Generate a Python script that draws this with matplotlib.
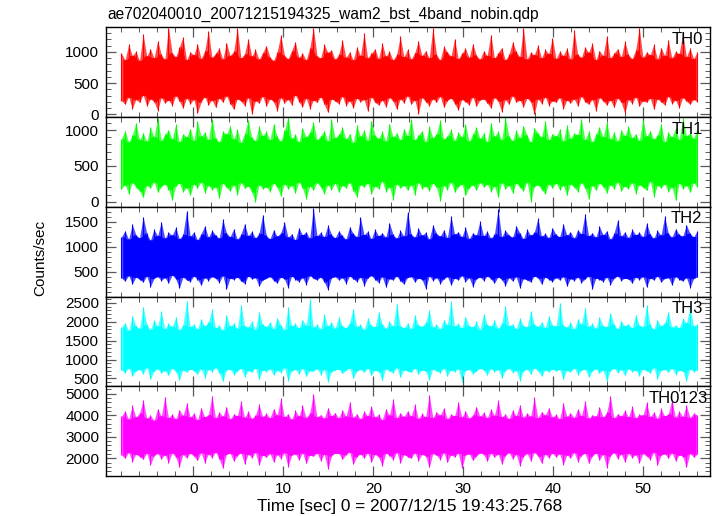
#!/usr/bin/env python3
"""
WAM light curve (4 bands + sum) - qdp style stacked panels
"""

import numpy as np
import matplotlib
matplotlib.use("Agg")
import matplotlib.pyplot as plt
from matplotlib.ticker import MultipleLocator

plt.rcParams["font.family"] = ["Liberation Sans", "DejaVu Sans"]
plt.rcParams["font.size"] = 11

T_START, T_END = -8.0, 56.0

# envelope of each time bin (max / min counts/sec)
th0_hi = [
    980, 870, 1120, 940, 1010, 860, 1290, 930, 1050, 900, 1180, 960, 880, 1390, 990, 920, 1080, 1240, 870, 1000,
    950, 1130, 890, 1020, 1340, 910, 980, 1060, 880, 1150, 940, 1010, 1390, 900, 970, 1210, 930, 1040, 880, 990,
    1100, 920, 860, 1000, 1270, 950, 890, 1020, 1160, 910, 980, 870, 1060, 1390, 940, 900, 1120, 990, 1030, 880,
    960, 1190, 910, 1000, 870, 1080, 940, 1300, 900, 980, 1050, 890, 1140, 930, 1010, 870, 960, 1250, 920, 1040,
    880, 990, 1170, 940, 1020, 900, 1390, 960, 870, 1090, 1000, 930, 1210, 890, 980, 1060, 910, 1130, 950, 880,
    1020, 940, 1280, 900, 990, 1070, 870, 960, 1160, 1010, 920, 1390, 880, 1000, 950, 1110, 900, 1040, 970, 1230,
    890, 1010, 940, 1060, 880, 1350, 960, 910, 1080, 990, 1140, 870, 1020, 940, 1260, 900, 980, 1050, 920, 1170,
    960, 890, 1030, 1390, 910, 1000, 950, 1120, 880, 1070, 940, 1190, 900, 1010, 970, 1300, 920, 1060, 890, 1000,
]
th0_lo = [
    220, 160, 280, 90, 240, 190, 310, 130, 250, 200, 60, 270, 180, 230, 140, 300, 210, 100, 260, 170,
    240, 20, 200, 280, 150, 230, 110, 260, 190, 300, 170, 80, 250, 210, 140, 270, 0, 220, 180, 290,
    130, 250, 200, 60, 270, 180, 240, 150, 310, 200, 120, 260, 90, 230, 190, 280, 160, 30, 250, 210,
    170, 290, 140, 220, 100, 260, 200, 240, 50, 280, 190, 150, 230, 120, 270, 210, 80, 250, 180, 300,
    160, 230, 10, 270, 200, 140, 250, 190, 290, 110, 220, 260, 170, 70, 240, 200, 150, 280, 130, 230,
    250, 180, 100, 270, 210, 40, 240, 160, 300, 190, 230, 120, 260, 200, 0, 250, 170, 280, 140, 220,
    190, 270, 90, 230, 180, 250, 130, 290, 200, 160, 240, 60, 270, 210, 150, 230, 110, 260, 190, 20,
    240, 170, 280, 130, 220, 190, 260, 80, 250, 200, 150, 290, 170, 230, 100, 270, 210, 160, 240, 200,
]
th1_hi = [
    880, 990, 830, 930, 1100, 860, 960, 840, 1040, 900, 1170, 850, 940, 1000, 870, 1080, 830, 950, 900, 1020,
    850, 1120, 910, 970, 860, 1160, 890, 830, 980, 940, 1060, 870, 1010, 820, 950, 1140, 900, 850, 1050, 920,
    980, 860, 1090, 910, 840, 1000, 1180, 880, 940, 830, 1030, 900, 970, 1110, 860, 920, 990, 840, 1150, 890,
    940, 1040, 870, 950, 820, 1070, 910, 1000, 850, 1130, 930, 880, 980, 840, 1090, 900, 960, 860, 1020, 920,
    1160, 860, 930, 990, 830, 1050, 890, 950, 1140, 870, 920, 1010, 850, 970, 900, 1080, 840, 940, 1040, 880,
    960, 830, 1100, 910, 980, 860, 1180, 920, 850, 1000, 890, 1060, 930, 830, 1030, 960, 900, 1130, 860, 950,
    910, 1010, 840, 1070, 880, 960, 930, 1150, 860, 980, 830, 940, 1040, 900, 1110, 870, 970, 840, 1000, 920,
    1050, 890, 950, 850, 1140, 910, 990, 870, 930, 1090, 830, 970, 900, 1030, 860, 1170, 920, 960, 880, 1020,
]
th1_lo = [
    180, 240, 110, 270, 200, 150, 60, 230, 190, 280, 130, 210, 250, 170, 20, 220, 260, 140, 200, 90,
    250, 190, 280, 120, 230, 170, 210, 50, 260, 200, 150, 240, 100, 270, 190, 220, 130, 0, 240, 180,
    210, 140, 260, 200, 80, 250, 180, 230, 120, 280, 190, 40, 220, 160, 270, 200, 110, 240, 170, 260,
    130, 230, 190, 270, 150, 70, 240, 200, 260, 110, 220, 180, 290, 140, 210, 30, 250, 190, 230, 160,
    240, 100, 270, 180, 220, 150, 260, 200, 10, 230, 170, 280, 130, 210, 250, 90, 190, 240, 160, 270,
    200, 250, 140, 220, 60, 270, 180, 230, 120, 260, 200, 150, 280, 0, 210, 240, 170, 110, 250, 190,
    260, 170, 230, 90, 250, 200, 140, 270, 190, 40, 230, 160, 260, 210, 120, 240, 180, 280, 150, 220,
    180, 270, 110, 240, 200, 160, 290, 70, 230, 190, 250, 140, 210, 20, 260, 180, 230, 130, 270, 200,
]
th2_hi = [
    1200, 1320, 1150, 1450, 1240, 1180, 1600, 1270, 1130, 1350, 1220, 1500, 1170, 1290, 1230, 1390, 1160, 1250, 1720, 1210,
    1300, 1140, 1260, 1420, 1190, 1330, 1240, 1170, 1550, 1280, 1200, 1360, 1150, 1250, 1460, 1220, 1310, 1180, 1270, 1640,
    1230, 1160, 1340, 1210, 1280, 1500, 1190, 1260, 1140, 1380, 1240, 1300, 1170, 1780, 1220, 1290, 1200, 1430, 1250, 1180,
    1320, 1230, 1150, 1400, 1270, 1200, 1590, 1240, 1310, 1160, 1350, 1220, 1280, 1190, 1480, 1250, 1170, 1330, 1210, 1700,
    1260, 1190, 1370, 1230, 1290, 1150, 1440, 1270, 1210, 1340, 1180, 1620, 1250, 1300, 1200, 1390, 1160, 1280, 1230, 1510,
    1220, 1310, 1170, 1260, 1750, 1200, 1330, 1240, 1190, 1420, 1280, 1160, 1350, 1230, 1290, 1570, 1210, 1270, 1180, 1380,
    1250, 1200, 1460, 1230, 1300, 1170, 1340, 1260, 1660, 1220, 1280, 1190, 1410, 1240, 1320, 1150, 1270, 1530, 1210, 1300,
    1180, 1350, 1240, 1290, 1200, 1470, 1260, 1170, 1330, 1230, 1610, 1280, 1190, 1360, 1250, 1210, 1440, 1270, 1200, 1320,
]
th2_lo = [
    380, 320, 430, 260, 400, 350, 300, 420, 210, 370, 410, 330, 390, 280, 440, 360, 180, 400, 340, 310,
    420, 350, 240, 390, 330, 410, 370, 290, 430, 160, 380, 350, 400, 320, 270, 420, 360, 390, 220, 340,
    370, 410, 330, 280, 400, 360, 190, 420, 350, 310, 390, 250, 430, 370, 340, 400, 300, 150, 380, 410,
    340, 390, 270, 420, 360, 310, 400, 230, 380, 430, 350, 290, 410, 200, 370, 340, 420, 320, 260, 390,
    410, 300, 380, 350, 170, 420, 330, 390, 270, 360, 410, 240, 380, 340, 430, 310, 390, 210, 360, 400,
    330, 420, 360, 280, 400, 350, 230, 390, 320, 410, 180, 370, 340, 300, 420, 380, 260, 400, 350, 310,
    390, 340, 410, 220, 370, 330, 400, 290, 360, 420, 160, 380, 350, 310, 400, 250, 370, 420, 330, 380,
    360, 280, 400, 350, 410, 200, 380, 340, 420, 300, 370, 390, 240, 410, 350, 320, 390, 190, 370, 400,
]
th3_hi = [
    1850, 1980, 1760, 2150, 1900, 1820, 2400, 1930, 1790, 2050, 1880, 2280, 1810, 1960, 1870, 2120, 1780, 1920, 2550, 1860,
    1950, 1800, 2080, 1890, 1990, 2330, 1840, 1910, 1770, 2180, 1880, 1970, 1820, 2450, 1900, 1850, 2020, 1790, 2260, 1930,
    1870, 2000, 1810, 2110, 1920, 1780, 2380, 1890, 1960, 1830, 2060, 1900, 2600, 1850, 1940, 1800, 2200, 1880, 1990, 1820,
    2130, 1900, 1840, 1980, 2350, 1870, 1930, 1790, 2090, 1910, 1860, 2250, 1950, 1820, 2010, 1880, 2480, 1900, 1840, 1970,
    1810, 2170, 1920, 1870, 1990, 2300, 1850, 1940, 1800, 2060, 1910, 2560, 1880, 1960, 1830, 2140, 1900, 1860, 2010, 1790,
    2220, 1930, 1880, 2040, 1820, 1970, 2420, 1890, 1950, 1810, 2100, 1900, 1860, 2290, 1940, 1870, 2000, 1830, 2160, 1910,
    1880, 2510, 1920, 1850, 1990, 1800, 2070, 1930, 2360, 1870, 1960, 1820, 2120, 1900, 1860, 2240, 1940, 1810, 2030, 1890,
    1950, 1840, 2190, 1910, 1870, 2440, 1930, 1800, 2050, 1890, 1980, 2270, 1850, 1920, 1830, 2090, 1960, 2380, 1880, 1940,
]
th3_lo = [
    720, 650, 780, 560, 700, 740, 620, 790, 480, 690, 760, 640, 710, 580, 770, 680, 450, 730, 660, 750,
    700, 610, 760, 520, 740, 680, 790, 640, 420, 720, 750, 600, 690, 770, 540, 710, 660, 780, 470, 730,
    680, 760, 590, 720, 650, 790, 430, 700, 740, 620, 770, 550, 710, 690, 760, 600, 740, 400, 680, 720,
    750, 630, 710, 780, 500, 690, 740, 660, 770, 580, 720, 680, 450, 760, 700, 640, 790, 530, 730, 690,
    660, 770, 610, 730, 690, 460, 750, 700, 640, 780, 570, 720, 680, 760, 410, 710, 740, 620, 690, 770,
    720, 590, 760, 680, 740, 510, 700, 770, 650, 720, 440, 690, 750, 610, 780, 700, 560, 730, 670, 750,
    690, 740, 480, 720, 660, 780, 600, 710, 750, 530, 690, 760, 640, 720, 420, 700, 770, 650, 740, 580,
    760, 680, 720, 570, 750, 700, 640, 790, 490, 710, 740, 660, 770, 600, 720, 690, 430, 750, 680, 720,
]
th0123_hi = [
    3950, 4200, 3800, 4450, 3900, 4100, 4700, 3850, 4000, 3750, 4300, 3950, 4850, 3880, 4050, 3820, 4250, 3980, 4550, 3900,
    4100, 3780, 4350, 3920, 4020, 4900, 3860, 4150, 3940, 4400, 3810, 4060, 3970, 4650, 3890, 4180, 3840, 4000, 4500, 3930,
    4080, 3870, 4300, 3990, 4780, 3920, 4060, 3800, 4220, 3950, 4450, 3880, 4100, 5000, 3910, 4030, 3850, 4350, 3970, 4120,
    3860, 4250, 3940, 4600, 3890, 4070, 3820, 4180, 3960, 4420, 3900, 4040, 3780, 4300, 3990, 4750, 3870, 4110, 3930, 4200,
    3950, 4500, 3840, 4080, 3910, 4950, 3880, 4160, 3990, 4340, 3820, 4050, 3960, 4620, 3900, 4210, 3850, 4010, 4400, 3940,
    4130, 3870, 4280, 3980, 4700, 3910, 4060, 3830, 4240, 3960, 4480, 3890, 4100, 3940, 4820, 3870, 4170, 3990, 4350, 3900,
    4050, 3820, 4560, 3930, 4110, 3880, 4290, 3970, 4660, 3850, 4020, 3940, 4380, 3900, 4140, 4880, 3860, 4070, 3950, 4230,
    3910, 4420, 3870, 4040, 3990, 4590, 3920, 4150, 3840, 4310, 3960, 4060, 4720, 3890, 4190, 3930, 4450, 3880, 4100, 4000,
]
th0123_lo = [
    2150, 2000, 2280, 1850, 2200, 2080, 1950, 2250, 1700, 2120, 2230, 1980, 2170, 1800, 2260, 2050, 1620, 2190, 2010, 2240,
    2100, 1900, 2270, 1780, 2210, 2030, 2290, 1960, 1550, 2180, 2240, 1870, 2130, 2260, 1740, 2200, 2020, 2280, 1680, 2150,
    2050, 2230, 1830, 2180, 1990, 2270, 1600, 2140, 2220, 1920, 2260, 1760, 2160, 2090, 2250, 1880, 2200, 1500, 2110, 2240,
    2230, 1950, 2170, 2290, 1720, 2080, 2210, 2000, 2260, 1820, 2190, 2060, 1650, 2240, 2130, 1930, 2280, 1790, 2180, 2070,
    2000, 2260, 1890, 2200, 2090, 1580, 2230, 2140, 1940, 2270, 1810, 2170, 2060, 2250, 1530, 2150, 2220, 1900, 2100, 2260,
    2180, 1860, 2240, 2050, 2210, 1730, 2120, 2270, 1970, 2190, 1640, 2080, 2230, 1880, 2280, 2100, 1770, 2200, 2020, 2240,
    2060, 2220, 1700, 2170, 2010, 2280, 1850, 2130, 2240, 1760, 2090, 2250, 1930, 2190, 1560, 2110, 2270, 1980, 2210, 1820,
    2240, 2030, 2180, 1790, 2230, 2100, 1940, 2290, 1690, 2140, 2220, 2000, 2260, 1870, 2170, 2080, 1590, 2230, 2050, 2190,
]

band_names = ["TH0", "TH1", "TH2", "TH3", "TH0123"]
band_hi = [th0_hi, th1_hi, th2_hi, th3_hi, th0123_hi]
band_lo = [th0_lo, th1_lo, th2_lo, th3_lo, th0123_lo]
band_colors = ["#ff0000", "#00ff00", "#0000ff", "#00ffff", "#ff00ff"]
band_ylim = [(-45, 1395), (-70, 1180), (10, 1800), (290, 2670), (1180, 5340)]
band_major = [500, 500, 500, 500, 1000]
band_minor = [100, 100, 100, 100, 200]
label_right = [0.988, 0.988, 0.988, 0.988, 0.997]


def main():
    fig = plt.figure(figsize=(7.17, 5.16), dpi=100)
    gs = fig.add_gridspec(5, 1, left=0.148, right=0.990, top=0.947, bottom=0.0775, hspace=0)

    for i, name in enumerate(band_names):
        ax = fig.add_subplot(gs[i])
        hi = np.array(band_hi[i], dtype=float)
        lo = np.array(band_lo[i], dtype=float)
        x = np.linspace(T_START, T_END, hi.size)
        col = band_colors[i]

        # light outer fringe: envelope of all bins
        ax.fill_between(x, lo, hi, color=col, alpha=0.7, linewidth=0)
        # solid core: what neighbouring bins share
        xm = 0.5 * (x[:-1] + x[1:])
        core_hi = np.minimum(hi[:-1], hi[1:])
        core_lo = np.maximum(lo[:-1], lo[1:])
        ax.fill_between(xm, core_lo, core_hi, color=col, linewidth=0.5, edgecolor=col)
        # full sweep of each bin as a thin spike
        ax.vlines(x, lo, hi, color=col, linewidth=0.8)

        ax.set_xlim(-9.7, 57.4)
        ax.set_ylim(*band_ylim[i])
        ax.xaxis.set_major_locator(MultipleLocator(10))
        ax.xaxis.set_minor_locator(MultipleLocator(2))
        ax.yaxis.set_major_locator(MultipleLocator(band_major[i]))
        ax.yaxis.set_minor_locator(MultipleLocator(band_minor[i]))
        ax.tick_params(which="both", direction="in", top=True, right=True, color="0.35")
        ax.tick_params(which="major", length=7, width=0.9, labelsize=11, pad=5)
        ax.tick_params(which="minor", length=3.5, width=0.7)
        for sp in ax.spines.values():
            sp.set_linewidth(1.0)
        if i < 4:
            ax.tick_params(labelbottom=False)
        else:
            ax.tick_params(axis="x", pad=4)
        ax.text(label_right[i], 0.95, name, transform=ax.transAxes, ha="right", va="top", fontsize=12)

    fig.text(107 / 717, 1 - 14 / 516, "ae702040010_20071215194325_wam2_bst_4band_nobin.qdp",
             ha="left", va="center", fontsize=11.2)
    fig.text(40 / 717, 1 - 258 / 516, "Counts/sec", rotation=90, ha="center", va="center", fontsize=11)
    fig.text(410 / 717, 1 - 506 / 516, "Time [sec] 0 = 2007/12/15 19:43:25.768",
             ha="center", va="center", fontsize=12.4)

    fig.savefig("out.png", dpi=100)


if __name__ == "__main__":
    main()
